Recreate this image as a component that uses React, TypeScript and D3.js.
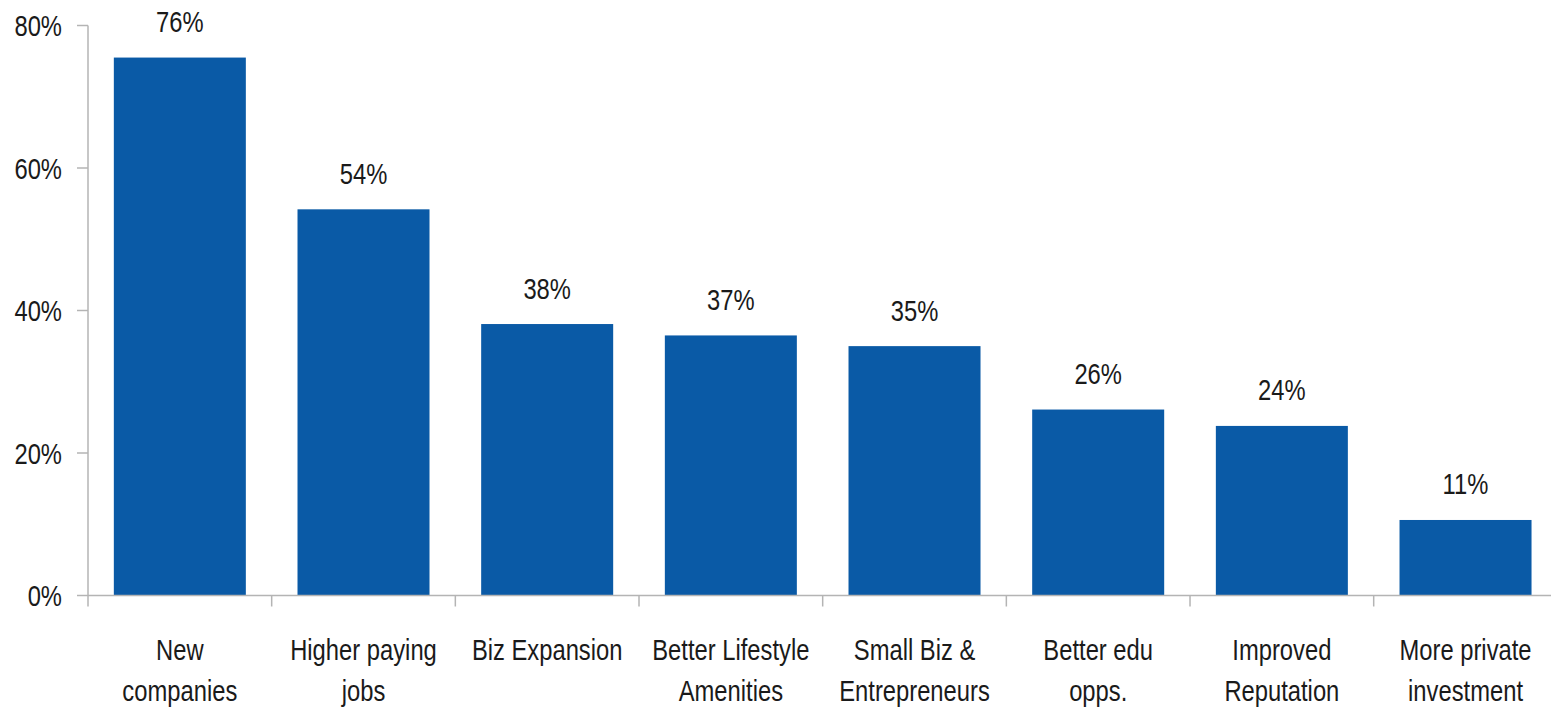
import React from "react";
import * as d3 from "d3";

const categories: string[][] = [
  ["New", "companies"],
  ["Higher paying", "jobs"],
  ["Biz Expansion"],
  ["Better Lifestyle", "Amenities"],
  ["Small Biz &", "Entrepreneurs"],
  ["Better edu", "opps."],
  ["Improved", "Reputation"],
  ["More private", "investment"],
];
const values: number[] = [75.5, 54.2, 38.1, 36.5, 35.0, 26.1, 23.8, 10.6];
const yTicks: number[] = [0, 20, 40, 60, 80];

const W = 1551;
const H = 710;
const FONT = "'Liberation Sans', Arial, sans-serif";
const BAR = "#0A5AA6";
const AXIS = "#B4B4B4";
const TEXT = "#1A1A1A";
const NARROW = 0.82;

function NText({ x, y, anchor, children, lines }: any) {
  return (
    <text
      transform={`translate(${x},${y}) scale(${NARROW},1)`}
      textAnchor={anchor}
      fontSize={29}
      fill={TEXT}
    >
      {lines
        ? lines.map((ln: string, j: number) => (
            <tspan key={j} x={0} y={j * 41.5}>
              {ln}
            </tspan>
          ))
        : children}
    </text>
  );
}

export default function App() {
  const keys = categories.map((c) => c.join(" "));
  const left = 88;
  const step = 183.67;
  const pad = 0.2813;
  const x = d3
    .scaleBand<string>()
    .domain(keys)
    .range([left, left + step * keys.length])
    .paddingInner(pad)
    .paddingOuter(pad / 2);
  const y = d3.scaleLinear().domain([0, 80]).range([595.5, 25.5]);
  const s = x.step();
  const bw = x.bandwidth();
  const bounds = d3.range(keys.length + 1).map((i) => left + i * s);

  return (
    <svg
      width={W}
      height={H}
      style={{ position: "absolute", left: 0, top: 0, background: "#fff" }}
      fontFamily={FONT}
    >
      {values.map((v, i) => (
        <rect
          key={keys[i]}
          x={x(keys[i])}
          y={y(v)}
          width={bw}
          height={y(0) - y(v)}
          fill={BAR}
        />
      ))}
      {values.map((v, i) => (
        <NText
          key={"l" + keys[i]}
          x={(x(keys[i]) as number) + bw / 2}
          y={y(v) - 25.5}
          anchor="middle"
        >
          {Math.round(v)}%
        </NText>
      ))}
      <line x1={left} x2={left} y1={y(0)} y2={y(80)} stroke={AXIS} strokeWidth={1.5} />
      {yTicks.map((t) => (
        <g key={"yt" + t}>
          <line x1={left - 11} x2={left} y1={y(t)} y2={y(t)} stroke={AXIS} strokeWidth={1.5} />
          <NText x={62} y={y(t) + 10.5} anchor="end">
            {t}%
          </NText>
        </g>
      ))}
      <line x1={left} x2={bounds[bounds.length - 1]} y1={y(0)} y2={y(0)} stroke={AXIS} strokeWidth={1.5} />
      {bounds.map((b, i) => (
        <line key={"xt" + i} x1={b} x2={b} y1={y(0)} y2={y(0) + 11} stroke={AXIS} strokeWidth={1.5} />
      ))}
      {categories.map((lines, i) => (
        <NText
          key={"c" + keys[i]}
          x={(x(keys[i]) as number) + bw / 2}
          y={660}
          anchor="middle"
          lines={lines}
        />
      ))}
    </svg>
  );
}
